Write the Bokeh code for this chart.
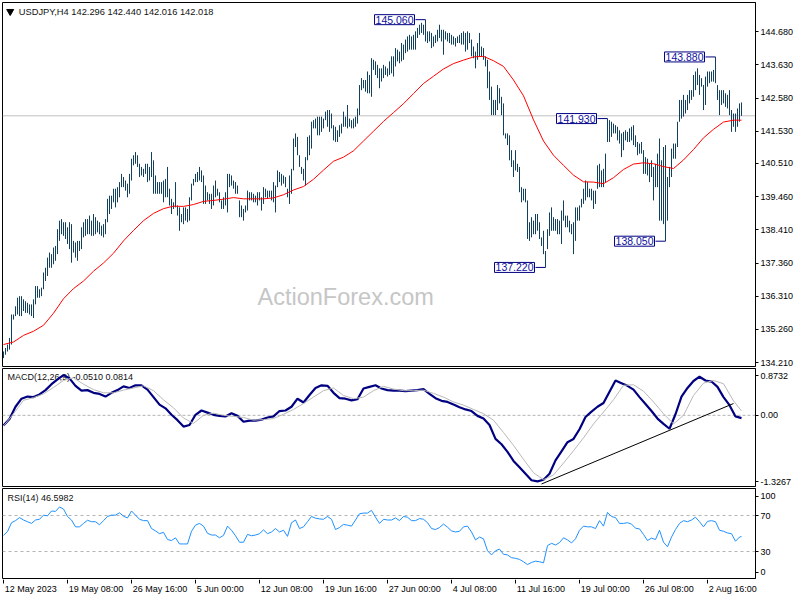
from bokeh.plotting import figure
from bokeh.models import Range1d, FixedTicker, Span, Label, PrintfTickFormatter
from bokeh.layouts import column
from bokeh.core.properties import value
from bokeh.embed import file_html
from bokeh.resources import INLINE

# ---------------- data ----------------
symbol = "USDJPY,H4"
last_ohlc = [142.296, 142.440, 142.016, 142.018]

high = [
134.56,134.67,134.78,134.99,135.73,135.73,135.99,136.26,136.31,136.31,
136.21,136.15,136.10,136.05,136.05,136.21,136.63,136.63,136.53,136.58,
137.06,137.21,137.53,137.69,137.64,137.85,137.90,138.43,138.70,138.75,
138.65,138.65,138.49,138.65,138.59,138.06,138.01,138.06,138.06,138.49,
138.65,138.75,138.75,138.86,138.70,138.91,138.81,138.70,138.65,138.54,
138.59,138.75,139.39,139.49,139.49,139.71,139.71,139.76,139.92,140.18,
140.08,139.97,139.87,140.18,140.66,140.77,140.87,140.77,140.50,140.40,
140.34,140.50,140.50,140.40,140.87,140.61,140.13,139.92,139.92,139.92,
139.97,140.02,140.40,139.71,139.39,139.28,139.92,139.18,139.12,138.91,
139.12,139.12,139.07,139.44,139.87,140.02,140.18,140.24,140.40,140.29,
140.13,139.81,139.60,139.55,139.55,139.81,139.97,139.71,139.60,139.34,
139.44,139.60,140.18,140.18,140.13,139.97,139.92,139.81,139.34,139.18,
139.07,139.18,139.65,139.60,139.60,139.55,139.49,139.60,139.60,139.44,
139.76,139.71,139.65,139.65,139.65,139.92,139.81,140.29,140.24,140.18,
140.13,140.08,139.71,140.13,140.34,141.30,141.46,141.35,140.77,140.40,
140.34,140.71,141.35,141.40,141.83,141.88,141.93,141.99,141.99,141.99,
141.93,142.15,142.20,142.20,142.09,141.72,141.67,141.56,141.72,141.77,
142.15,141.99,142.36,141.93,141.88,141.93,141.99,142.25,142.99,143.21,
143.15,143.15,143.42,143.31,143.84,143.79,143.74,143.63,143.52,143.52,
143.63,143.58,143.52,143.74,143.90,143.90,144.16,144.11,144.05,144.32,
144.27,144.43,144.53,144.58,144.53,144.58,144.69,144.80,144.90,144.96,
144.90,145.06,144.69,144.69,144.64,144.53,144.58,144.74,144.90,144.74,
144.74,144.69,144.64,144.64,144.58,144.53,144.48,144.53,144.58,144.64,
144.69,144.64,144.69,144.64,144.43,144.21,144.05,144.32,144.64,144.21,
144.16,143.90,143.79,143.42,142.94,142.52,142.52,142.99,142.89,142.62,
142.41,141.46,141.46,141.40,140.93,140.61,140.93,140.50,140.40,139.76,
139.71,139.71,139.34,138.65,138.81,138.70,138.91,138.91,138.65,138.17,
138.38,137.74,138.43,138.96,139.12,138.81,138.75,138.75,138.70,139.02,
139.34,138.86,138.86,138.70,138.59,138.65,139.12,139.12,139.18,139.39,
139.71,139.97,139.92,139.71,139.71,139.65,139.65,140.45,140.50,140.29,
140.34,140.82,141.93,141.88,141.83,141.77,141.72,141.67,141.56,141.46,
141.51,141.56,141.51,141.62,141.67,141.72,141.40,141.19,141.14,141.19,
140.93,140.71,140.66,140.50,140.61,140.40,140.50,140.82,141.30,140.61,
141.03,141.09,140.08,140.40,140.98,141.14,141.14,141.83,142.52,142.52,
142.68,142.52,142.68,142.83,142.83,143.31,143.42,143.52,143.31,143.21,
142.99,143.26,143.42,143.42,143.42,143.47,143.88,142.99,142.83,142.83,
142.83,142.73,142.68,142.83,142.20,142.09,142.09,142.25,142.41,142.440]

low = [
134.35,134.46,134.56,134.62,134.78,135.57,135.68,135.73,135.68,135.68,
135.84,135.78,135.78,135.73,135.68,135.62,136.05,136.26,136.26,136.31,
136.53,136.79,136.95,137.21,137.21,137.32,137.43,137.64,138.06,138.27,
138.22,138.12,137.96,137.80,137.37,137.69,137.53,137.43,137.74,137.80,
138.17,138.22,138.27,138.27,138.22,138.22,138.27,138.33,138.27,138.22,
138.17,138.27,138.65,138.91,139.07,139.28,139.12,139.28,139.44,139.76,
139.76,139.65,139.44,139.55,139.97,140.45,140.50,140.40,140.08,140.13,
140.08,140.18,139.92,139.97,140.08,139.55,139.55,139.55,139.55,139.55,
139.28,139.44,139.44,139.18,138.91,139.07,139.12,138.86,138.38,138.65,
138.59,138.70,138.65,138.70,139.34,139.81,139.92,139.92,139.97,139.92,
139.23,139.23,139.34,139.23,139.07,139.18,139.44,139.49,139.28,139.07,
139.07,139.18,138.96,139.76,139.81,139.71,139.55,139.55,138.81,138.81,
138.70,138.96,139.02,139.34,139.34,139.28,139.28,139.18,139.34,139.02,
139.23,139.44,139.39,139.44,139.34,139.28,138.96,139.76,139.92,139.81,
139.87,139.76,139.44,139.23,139.55,140.29,141.03,140.77,140.40,140.18,
139.97,139.81,140.61,140.77,140.98,141.62,141.62,141.40,141.40,141.51,
141.62,141.88,141.67,141.51,141.62,141.24,141.19,141.19,141.35,141.46,
141.67,141.67,141.62,141.67,141.62,141.62,141.67,141.77,142.04,142.83,
142.89,142.78,142.73,142.73,142.62,143.47,143.31,143.21,142.89,143.10,
143.21,143.31,143.26,143.31,143.36,143.26,143.58,143.74,143.68,143.74,
143.79,144.00,144.05,144.11,144.11,144.11,144.11,144.48,144.58,144.64,
144.58,144.37,144.32,144.37,144.16,144.21,144.32,144.37,144.48,144.37,
143.95,144.43,144.37,144.32,144.27,144.27,144.21,144.32,144.32,144.27,
144.27,144.05,144.11,144.32,143.90,143.84,143.52,143.79,143.90,143.90,
143.79,143.58,142.89,142.52,142.04,142.04,142.04,142.20,142.41,142.04,
141.40,141.30,141.09,140.61,140.40,140.08,140.29,140.24,139.60,139.28,
139.34,139.28,138.12,138.06,138.17,138.27,138.27,138.38,138.12,137.90,
137.64,137.22,137.80,138.22,138.38,138.38,138.38,138.27,138.27,137.96,
138.70,138.49,138.49,138.33,138.27,137.64,138.06,138.70,138.70,139.12,
139.23,139.34,139.44,139.44,139.34,139.07,139.23,139.71,139.76,139.76,
139.76,139.92,141.19,141.19,141.35,141.46,141.46,141.24,141.14,140.71,
140.93,141.24,141.19,141.19,141.24,141.09,141.03,140.77,140.82,140.82,
140.18,140.18,140.13,139.92,140.08,139.34,139.76,139.76,138.70,138.70,
138.59,138.05,138.70,139.76,140.08,140.66,140.66,141.03,141.83,141.93,
141.99,142.09,142.20,142.41,142.52,142.62,142.83,142.99,142.68,142.94,
142.20,142.36,142.94,143.05,143.10,143.10,143.05,142.52,142.04,142.36,
142.41,142.30,142.25,142.04,141.51,141.67,141.51,141.67,141.83,142.016]

# moving average (sampled every 5 bars + last bar)
ma_vals = [
134.78,134.86,135.07,135.20,135.39,135.77,136.23,136.55,136.79,137.10,
137.36,137.67,138.06,138.39,138.70,138.93,139.08,139.16,139.15,139.21,
139.31,139.34,139.38,139.43,139.39,139.39,139.39,139.42,139.52,139.67,
139.78,140.01,140.30,140.58,140.71,140.91,141.22,141.53,141.84,142.12,
142.40,142.72,143.04,143.27,143.50,143.67,143.78,143.88,143.90,143.76,
143.58,143.15,142.65,141.89,141.22,140.77,140.45,140.14,139.93,139.92,
139.87,140.06,140.32,140.49,140.53,140.50,140.41,140.35,140.62,140.95,
141.32,141.59,141.82,141.88,141.88]

macd_params = "12,26,9"
# MACD main line (sampled every 3 bars + last bar)
macd_main = [
-0.19,-0.07,0.16,0.31,0.35,0.34,0.39,0.47,0.58,0.67,
0.75,0.69,0.55,0.46,0.47,0.42,0.40,0.35,0.42,0.47,
0.54,0.51,0.56,0.56,0.48,0.34,0.20,0.13,0.01,-0.09,
-0.21,-0.18,0.01,0.09,0.05,0.01,-0.01,-0.02,0.04,-0.01,
-0.12,-0.10,-0.10,-0.08,-0.04,-0.02,0.08,0.09,0.16,0.31,
0.24,0.38,0.51,0.56,0.55,0.42,0.32,0.31,0.28,0.30,
0.50,0.53,0.56,0.50,0.47,0.46,0.46,
0.45,0.46,0.47,0.49,0.40,0.32,0.27,0.25,0.20,0.15,
0.11,0.08,-0.01,-0.06,-0.18,-0.44,-0.54,-0.68,-0.85,-0.97,
-1.09,-1.21,-1.23,-1.20,-1.09,-0.84,-0.67,-0.50,-0.44,-0.26,
-0.03,0.07,0.16,0.23,0.44,0.65,0.60,0.55,0.48,0.34,
0.21,0.08,-0.06,-0.16,-0.25,0.02,0.35,0.51,0.64,0.72,
0.65,0.63,0.53,0.34,0.19,-0.02,-0.0510]
# MACD signal line (sampled every 5 bars + last bar)
macd_signal = [
-0.20,0.03,0.28,0.33,0.40,0.52,0.65,0.70,0.58,0.48,
0.42,0.42,0.47,0.51,0.55,0.46,0.29,0.14,-0.05,-0.15,
0.00,0.04,0.00,-0.02,-0.04,-0.09,-0.08,-0.06,0.02,0.11,
0.22,0.34,0.46,0.51,0.37,0.31,0.34,0.46,0.54,0.49,
0.46,0.46,0.47,0.41,0.34,0.25,0.19,0.11,0.03,-0.09,
-0.32,-0.56,-0.82,-1.07,-1.20,-1.11,-0.89,-0.66,-0.42,-0.16,
0.06,0.29,0.56,0.57,0.45,0.25,0.03,-0.16,0.00,0.37,
0.60,0.65,0.59,0.27,0.0814]
macd_limits = [-1.3267, 0.8732]
macd_trend_idx = [269, 365]
macd_trend_val = [-1.28, 0.22]

rsi_period = 14
rsi_vals = [
47.9,52.1,62.0,64.3,67.7,65.0,63.1,61.2,65.0,65.8,
70.4,69.6,75.0,74.6,79.5,77.2,68.9,65.0,57.4,57.4,
61.2,64.7,63.1,63.1,59.7,64.3,68.9,70.4,70.4,73.0,
69.2,67.3,75.0,70.4,65.8,64.3,64.3,55.5,52.9,49.8,
51.3,43.3,42.2,45.2,38.4,38.4,38.4,52.5,59.3,61.2,
58.2,50.2,48.3,48.3,45.2,47.9,58.2,53.6,47.5,40.3,
40.3,49.0,47.5,48.3,49.8,54.0,49.8,51.7,55.5,51.7,
53.6,46.8,62.0,65.0,55.5,57.4,63.1,68.9,67.0,66.2,
65.8,68.9,65.8,54.4,56.7,60.1,59.3,58.2,65.0,71.9,
72.7,72.7,75.7,68.1,61.2,65.8,65.0,65.0,67.3,64.3,
68.9,68.1,64.3,64.3,66.6,65.8,62.0,55.5,54.4,56.7,
60.5,57.0,52.9,51.7,52.5,57.4,58.2,51.7,42.9,46.0,
44.1,30.8,26.2,30.8,32.7,26.9,26.2,23.1,22.4,21.2,
18.6,15.5,17.8,19.3,18.6,17.4,36.5,39.1,37.2,39.9,
45.2,42.9,39.5,44.1,53.6,58.2,57.4,57.4,55.5,64.3,
58.2,73.4,68.9,67.7,61.2,61.2,62.0,60.5,55.9,55.1,
49.0,42.2,44.9,43.3,53.6,40.3,35.3,46.0,54.4,61.2,
64.3,63.1,65.0,68.1,63.1,57.4,63.5,64.3,63.1,53.6,
52.5,50.6,49.8,41.4,46.0,46.5982]
rsi_levels = [70, 30]
rsi_ticks = [100, 70, 30, 0]

price_ticks = [144.680, 143.630, 142.580, 141.530, 140.510, 139.460,
               138.410, 137.360, 136.310, 135.260, 134.210]
price_limits = [134.085, 145.603]

date_labels = ["12 May 2023", "19 May 08:00", "26 May 16:00", "5 Jun 00:00",
               "12 Jun 08:00", "19 Jun 16:00", "27 Jun 00:00", "4 Jul 08:00",
               "11 Jul 16:00", "19 Jul 00:00", "26 Jul 08:00", "2 Aug 16:00"]
date_step = 32

pivot_idx = [211, 271, 302, 331, 356]
pivot_kind = ["high", "low", "high", "low", "high"]

watermark = "ActionForex.com"

# ---------------- derived ----------------
n = len(high)
if len(low) != n:
    raise SystemExit(f"len mismatch high={n} low={len(low)}")
bar_idx = list(range(n))
ma_idx = list(range(0, n - 4, 5)) + [n - 1]
sig_idx = list(range(0, n - 4, 5)) + [n - 1]
macd_idx = list(range(0, n - 3, 3)) + [n - 1]
rsi_idx = list(range(0, n - 1, 2)) + [n - 1]
for nm, a, b in [("ma", ma_idx, ma_vals), ("macd", macd_idx, macd_main),
                 ("sig", sig_idx, macd_signal), ("rsi", rsi_idx, rsi_vals)]:
    if len(a) != len(b):
        raise SystemExit(f"{nm} len mismatch {len(a)} vs {len(b)}")
date_idx = [k * date_step for k in range(len(date_labels))]

# ---------------- styling ----------------
FONT = "Liberation Sans"
BAR = "#12405f"
NAVY = "#000080"
LB = 2            # left border
FW = 753          # frame width (2 px per bar)
RB = 43           # right border for price axis
FH_MAIN, FH_MACD, FH_RSI = 364, 118, 90
X0 = -0.5
XR = Range1d(X0, X0 + FW / 2.0)


def px_x(px):
    return XR.start + px / 2.0


def px_y(yr, fh, px):
    return yr.end - px * (yr.end - yr.start) / fh


def make_fig(fh, yr, top):
    p = figure(frame_width=FW, frame_height=fh, x_range=XR, y_range=yr,
               output_backend="svg", toolbar_location=None,
               x_axis_location=None, y_axis_location="right",
               min_border_left=LB, min_border_right=RB,
               min_border_top=top, min_border_bottom=1)
    p.grid.visible = False
    p.outline_line_color = "black"
    p.outline_line_width = 1
    p.outline_line_alpha = 1.0
    p.background_fill_color = "white"
    p.border_fill_color = "white"
    ax = p.yaxis[0]
    ax.axis_line_color = "black"
    ax.major_tick_out = 3
    ax.major_tick_in = 0
    ax.minor_tick_out = 0
    ax.minor_tick_in = 0
    ax.major_tick_line_color = "black"
    ax.major_label_standoff = 2
    ax.major_label_text_font = FONT
    ax.major_label_text_font_size = "9px"
    ax.major_label_text_color = "black"
    return p


def set_pad(lbl, pad):
    try:
        lbl.padding = pad
    except Exception:
        pass


# ---------------- main price panel ----------------
yr_main = Range1d(*price_limits)
p = make_fig(FH_MAIN, yr_main, 2)
p.yaxis[0].ticker = FixedTicker(ticks=price_ticks)
p.yaxis[0].formatter = PrintfTickFormatter(format="%.3f")

p.text(x=[px_x(255)], y=[px_y(yr_main, FH_MAIN, 294)], text=[watermark],
       text_font=value(FONT), text_font_size=value("23.5px"), text_color="#c6c6c6",
       text_align="left", text_baseline="middle")

p.add_layout(Span(location=last_ohlc[3], dimension="width", line_color="#c0c0c0",
                  line_width=1, level="underlay"))

p.segment(x0=bar_idx, y0=low, x1=bar_idx, y1=high, line_color=BAR, line_width=1)
p.line(ma_idx, ma_vals, line_color="#ff0000", line_width=1)

# title
p.scatter(x=[px_x(7.7)], y=[px_y(yr_main, FH_MAIN, 9)], marker="inverted_triangle",
          size=7, color="black")
title = f"{symbol}  " + " ".join(f"{v:.3f}" for v in last_ohlc)
p.text(x=[px_x(16.3)], y=[px_y(yr_main, FH_MAIN, 9)], text=[title],
       text_font=value(FONT), text_font_size=value("9.3px"), text_color="#111111",
       text_align="left", text_baseline="middle")

# pivot annotations
for i, kind in zip(pivot_idx, pivot_kind):
    v = high[i] if kind == "high" else low[i]
    p.segment(x0=[i - 5], y0=[v], x1=[i], y1=[v], line_color=NAVY, line_width=1)
    lbl = Label(x=i - 5, y=v, text=f"{v:.3f}", text_align="right", text_baseline="middle",
                text_font=FONT, text_font_size="10.5px", text_color="#1010a0",
                border_line_color=NAVY, border_line_width=1,
                background_fill_color="white", x_offset=-1)
    set_pad(lbl, 1)
    p.add_layout(lbl)

# current price tag
tag = Label(x=XR.end, y=last_ohlc[3], text=f"{last_ohlc[3]:.3f}", text_align="left",
            text_baseline="middle", text_font=FONT, text_font_size="9px",
            text_font_style="bold", text_color="white",
            background_fill_color="black", x_offset=3)
set_pad(tag, 1)
p.add_layout(tag)

# ---------------- MACD panel ----------------
yr_macd = Range1d(*macd_limits)
pm = make_fig(FH_MACD, yr_macd, 1)
t_hi = px_y(yr_macd, FH_MACD, 7)
t_lo = px_y(yr_macd, FH_MACD, FH_MACD - 5)
pm.yaxis[0].ticker = FixedTicker(ticks=[t_lo, 0.0, t_hi])
pm.yaxis[0].major_label_overrides = {t_lo: f"{macd_limits[0]:.4f}", 0.0: "0.00",
                                     t_hi: f"{macd_limits[1]:.4f}"}
pm.text(x=[px_x(5)], y=[px_y(yr_macd, FH_MACD, 8)],
        text=[f"MACD({macd_params}) {macd_main[-1]:.4f} {macd_signal[-1]:.4f}"],
        text_font=value(FONT), text_font_size=value("9px"), text_color="#111111",
        text_align="left", text_baseline="middle")
pm.add_layout(Span(location=0, dimension="width", line_color="#b4b4b4", line_width=1,
                   line_dash="3 2", level="underlay"))
pm.line(macd_idx, macd_main, line_color=NAVY, line_width=2.2)
pm.line(sig_idx, macd_signal, line_color="#b8b8b8", line_width=1)
pm.line(macd_trend_idx, macd_trend_val, line_color="black", line_width=1)

# ---------------- RSI panel ----------------
yr_rsi = Range1d(0, 100)
pr = make_fig(FH_RSI, yr_rsi, 1)
r_hi = px_y(yr_rsi, FH_RSI, 7.5)
r_lo = px_y(yr_rsi, FH_RSI, FH_RSI - 6.5)
pr.yaxis[0].ticker = FixedTicker(ticks=[r_lo, rsi_levels[1], rsi_levels[0], r_hi])
pr.yaxis[0].major_label_overrides = {r_lo: str(rsi_ticks[3]), rsi_levels[1]: str(rsi_levels[1]),
                                     rsi_levels[0]: str(rsi_levels[0]), r_hi: str(rsi_ticks[0])}
pr.text(x=[px_x(5)], y=[px_y(yr_rsi, FH_RSI, 9.5)],
        text=[f"RSI({rsi_period}) {rsi_vals[-1]:.4f}"],
        text_font=value(FONT), text_font_size=value("9px"), text_color="#111111",
        text_align="left", text_baseline="middle")
for lv in rsi_levels:
    pr.add_layout(Span(location=lv, dimension="width", line_color="#b4b4b4", line_width=1,
                       line_dash="3 3", level="underlay"))
pr.line(rsi_idx, rsi_vals, line_color="#1e90ff", line_width=1)

# ---------------- date strip ----------------
SH = 18
ps = figure(frame_width=FW + RB, frame_height=SH,
            x_range=Range1d(XR.start, XR.start + (FW + RB) / 2.0), y_range=Range1d(0, SH),
            output_backend="svg", toolbar_location=None,
            x_axis_location=None, y_axis_location=None,
            min_border_left=LB, min_border_right=0, min_border_top=0, min_border_bottom=0)
ps.grid.visible = False
ps.outline_line_color = None
ps.segment(x0=date_idx, y0=[SH] * len(date_idx), x1=date_idx, y1=[SH - 4] * len(date_idx),
           line_color="black", line_width=1)
ps.text(x=[d + 0.6 for d in date_idx], y=[SH - 9] * len(date_idx), text=date_labels,
        text_font=value(FONT), text_font_size=value("9px"), text_color="black",
        text_align="left", text_baseline="middle")

layout = column(p, pm, pr, ps, spacing=0)
html = file_html(layout, INLINE, "USDJPY H4")
open("out.html", "w").write(html)
